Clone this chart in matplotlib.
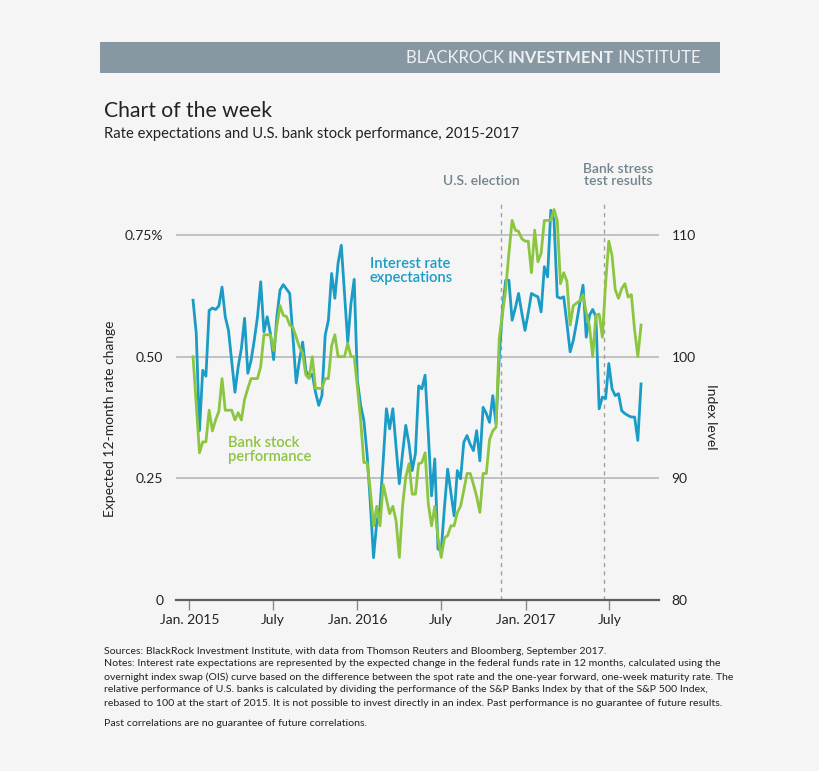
import matplotlib
matplotlib.use('Agg')
import numpy as np
import pandas as pd
import matplotlib.pyplot as plt
import matplotlib.dates as mdates
from matplotlib.patches import Rectangle

plt.rcParams['font.family'] = ['Lato', 'DejaVu Sans']

# weekly readings (Fridays), Jan 2015 - Sep 2017
dates = pd.date_range('2015-01-09', '2017-09-08', freq='W-FRI')

# expected 12-month rate change, % (left axis)
rate_2015 = [0.616, 0.548, 0.348, 0.472, 0.46, 0.595, 0.600, 0.597, 0.604, 0.643,
             0.582, 0.554, 0.49, 0.427, 0.479, 0.517, 0.579, 0.466, 0.492, 0.534,
             0.582, 0.654, 0.551, 0.582, 0.548,
             0.494, 0.582, 0.637, 0.648, 0.639, 0.630, 0.540, 0.446, 0.492, 0.530,
             0.472, 0.458, 0.464, 0.427, 0.400, 0.420, 0.544, 0.575, 0.671, 0.620,
             0.692, 0.729, 0.630, 0.530, 0.609, 0.659]
rate_2016 = [0.451, 0.40, 0.369, 0.30, 0.20, 0.087, 0.16, 0.19, 0.286, 0.393,
             0.352, 0.393, 0.314, 0.239, 0.301, 0.359, 0.321, 0.266, 0.301, 0.440,
             0.434, 0.462, 0.342, 0.214, 0.290, 0.105,
             0.101, 0.19, 0.269, 0.221, 0.173, 0.266, 0.249, 0.324, 0.338, 0.32,
             0.307, 0.348, 0.286, 0.396, 0.383, 0.365, 0.420, 0.362, 0.499, 0.595,
             0.657, 0.657, 0.575, 0.60, 0.630, 0.59, 0.554]
rate_2017 = [0.59, 0.630, 0.626, 0.623, 0.592, 0.685, 0.664, 0.801, 0.781, 0.623,
             0.620, 0.623, 0.568, 0.510, 0.534, 0.57, 0.61, 0.647, 0.54, 0.585,
             0.597, 0.582, 0.393, 0.417, 0.414, 0.486, 0.434, 0.420, 0.424, 0.389,
             0.383, 0.379, 0.376, 0.376, 0.328, 0.444]

# relative bank stock performance, index (right axis)
bank_2015 = [100, 96, 92.1, 93, 93, 95.6, 93.9, 94.8, 95.5, 98.2,
             95.6, 95.6, 95.6, 94.8, 95.4, 94.8, 96.5, 97.4, 98.2, 98.2,
             98.2, 99.2, 101.8, 101.8, 101.8,
             100.5, 102.5, 104.2, 103.4, 103.3, 102.6, 102.4, 101.6, 100.8, 100.3,
             98.5, 98.2, 100, 97.4, 97.4, 97.4, 98.2, 98.2, 100.9, 101.8,
             100, 100, 100, 101.1, 100, 100]
bank_2016 = [97.5, 94.8, 91.3, 91.3, 89, 86.1, 87.7, 86.1, 89.5, 88.3,
             87.1, 87.7, 86.5, 83.5, 87.7, 90.1, 91.2, 88.7, 88.7, 91.2,
             91.3, 92.1, 87.9, 86.1, 87.7, 85.1,
             83.5, 85.1, 85.3, 86.1, 86.1, 87.2, 87.7, 89, 90.4, 90.4,
             89.5, 88.5, 87.2, 90.4, 90.4, 93.2, 93.9, 94.2, 101.5, 103.5,
             105.5, 108.5, 111.2, 110.4, 110.3, 109.7, 109.5]
bank_2017 = [109.5, 106.9, 110.4, 107.8, 108.5, 111.2, 111.2, 111.2, 112.1, 111.2,
             106.0, 106.9, 106.2, 102.6, 104.2, 104.4, 104.6, 105.1, 103.6, 102.5,
             100, 103.4, 103.5, 101.6, 106, 109.5, 108.3, 105.5, 104.8, 105.6,
             106.0, 104.9, 105.1, 102.2, 100, 102.6]

rate = rate_2015 + rate_2016 + rate_2017
bank = bank_2015 + bank_2016 + bank_2017

events = {'U.S. election': '2016-11-08', 'Bank stress\ntest results': '2017-06-20'}
x_ticks = ['2015-01-01', '2015-07-01', '2016-01-01', '2016-07-01', '2017-01-01', '2017-07-01']
x_labels = ['Jan. 2015', 'July', 'Jan. 2016', 'July', 'Jan. 2017', 'July']
left_ticks = [0, 0.25, 0.50, 0.75]
left_labels = ['0', '0.25', '0.50', '0.75%']
right_ticks = [80, 90, 100, 110]

W, H = 820, 771
BLUE = '#1a9cc6'
GREEN = '#8cc540'
GRAY_TXT = '#72838d'

def fx(x):
    return x / W

def fy(y):
    return 1 - y / H

fig = plt.figure(figsize=(W / 100, H / 100), dpi=100, facecolor='#f5f5f5')

# header bar
fig.add_artist(Rectangle((fx(100), fy(73)), 620 / W, 31 / H, transform=fig.transFigure,
                         facecolor='#8898a2', edgecolor='none'))
r = fig.canvas.get_renderer()
x_right = fx(701)
for word, wt in [(' INSTITUTE', 'normal'), ('INVESTMENT', 'bold'), ('BLACKROCK ', 'normal')]:
    t = fig.text(x_right, fy(58), word, ha='right', va='center', color='#eef1f3',
                 fontsize=12, fontweight=wt)
    bb = t.get_window_extent(renderer=r)
    x_right = bb.x0 / W

fig.text(fx(104), fy(111), 'Chart of the week', fontsize=15.2, color='#222222', va='center')
fig.text(fx(104), fy(134), 'Rate expectations and U.S. bank stock performance, 2015-2017',
         fontsize=10.6, color='#222222', va='center')

ax = fig.add_axes([fx(176), fy(600), (659 - 176) / W, (600 - 200) / H])
ax.set_facecolor('none')
ax2 = ax.twinx()

ax.plot(dates, rate, color=BLUE, lw=2.0, zorder=4)
ax2.plot(dates, bank, color=GREEN, lw=2.0, zorder=3)

ax.set_ylim(0, 0.822)
ax2.set_ylim(80, 80 + 0.822 * 40)
ax.set_xlim(pd.Timestamp('2014-12-03'), pd.Timestamp('2017-10-17'))

for v in left_ticks[1:]:
    ax.axhline(v, color='#b3b3b3', lw=1.1, zorder=1)

for lbl, d in events.items():
    ax.axvline(pd.Timestamp(d), color='#a0a0a0', lw=1, ls=(0, (3, 3)), zorder=2)

ax.set_yticks(left_ticks)
ax.set_yticklabels(left_labels)
ax2.set_yticks(right_ticks)
ax.tick_params(axis='y', length=0, pad=9, labelsize=10, labelcolor='#222222')
ax2.tick_params(axis='y', length=0, pad=9, labelsize=10, labelcolor='#222222')
ax.set_xticks([pd.Timestamp(t) for t in x_ticks])
ax.set_xticklabels(x_labels)
ax.tick_params(axis='x', length=7, width=1, color='#8a8a8a', pad=3, labelsize=10,
               labelcolor='#222222')

for a in (ax, ax2):
    for s in ('top', 'left', 'right'):
        a.spines[s].set_visible(False)
ax2.spines['bottom'].set_visible(False)
ax.spines['bottom'].set_color('#5f5f5f')
ax.spines['bottom'].set_linewidth(1.6)

fig.text(fx(110), fy(419), 'Expected 12-month rate change', rotation=90, ha='center',
         va='center', fontsize=10, color='#222222')
fig.text(fx(711), fy(417), 'Index level', rotation=-90, ha='center', va='center',
         fontsize=10, color='#222222')

fig.text(fx(481), fy(181), 'U.S. election', ha='center', va='center', fontsize=10,
         color=GRAY_TXT, fontweight='semibold')
fig.text(fx(618), fy(175), 'Bank stress\ntest results', ha='center', va='center',
         fontsize=10, color=GRAY_TXT, fontweight='semibold', linespacing=1.05)
fig.text(fx(370), fy(271), 'Interest rate\nexpectations', ha='left', va='center',
         fontsize=10.6, color=BLUE, fontweight='semibold', linespacing=1.05)
fig.text(fx(228), fy(450), 'Bank stock\nperformance', ha='left', va='center',
         fontsize=10.6, color=GREEN, fontweight='semibold', linespacing=1.05)

notes = [
    (651, 'Sources: BlackRock Investment Institute, with data from Thomson Reuters and Bloomberg, September 2017.'),
    (664, 'Notes: Interest rate expectations are represented by the expected change in the federal funds rate in 12 months, calculated using the'),
    (677, 'overnight index swap (OIS) curve based on the difference between the spot rate and the one-year forward, one-week maturity rate. The'),
    (690, 'relative performance of U.S. banks is calculated by dividing the performance of the S&P Banks Index by that of the S&P 500 Index,'),
    (703, 'rebased to 100 at the start of 2015. It is not possible to invest directly in an index. Past performance is no guarantee of future results.'),
    (723, 'Past correlations are no guarantee of future correlations.'),
]
for y, s in notes:
    fig.text(fx(104), fy(y), s, fontsize=7.55, color='#222222', va='center')

fig.savefig('out.png', dpi=100, facecolor=fig.get_facecolor())
